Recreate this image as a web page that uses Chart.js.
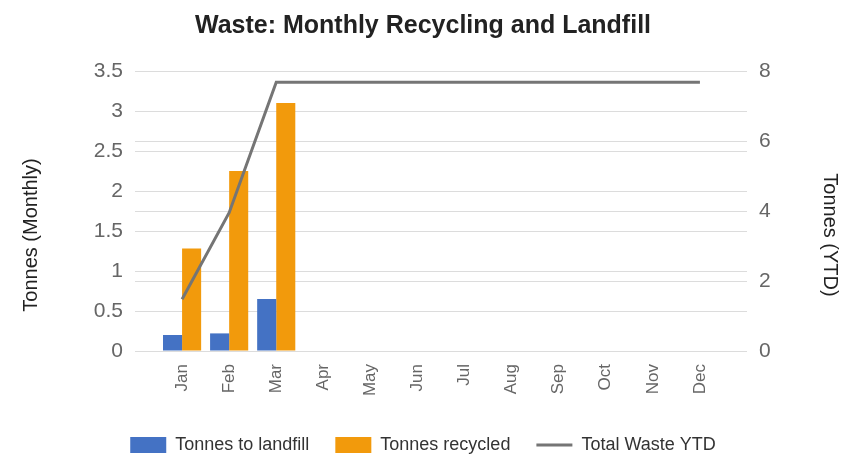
<!DOCTYPE html>
<html>
<head>
<meta charset="utf-8">
<script src="https://cdn.jsdelivr.net/npm/chart.js@4"></script>
<style>
  html, body { margin: 0; padding: 0; background: #fff; }
</style>
</head>
<body>
<canvas id="wasteChart" width="846" height="454"></canvas>
<script>
    const months = ['Jan', 'Feb', 'Mar', 'Apr', 'May', 'Jun', 'Jul', 'Aug', 'Sep', 'Oct', 'Nov', 'Dec'];
    const landfill = [0.2, 0.22, 0.65, null, null, null, null, null, null, null, null, null];
    const recycled = [1.28, 2.25, 3.1, null, null, null, null, null, null, null, null, null];
    const totalYtd = [1.48, 3.95, 7.68, 7.68, 7.68, 7.68, 7.68, 7.68, 7.68, 7.68, 7.68, 7.68];
    const monthlyTicks = [0, 0.5, 1, 1.5, 2, 2.5, 3, 3.5];
    const ytdTicks = [0, 2, 4, 6, 8];

    // one empty slot each side, like the sheet's chart leaves room before Jan / after Dec
    const labels = ['', ...months, ''];
    const pad = arr => [null, ...arr, null];

    const FONT = "'Liberation Sans', Arial, sans-serif";
    Chart.defaults.font.family = FONT;

    // axis titles sit a bit below the middle of the plot in the sheet's chart,
    // so they are drawn here instead of with scale.title
    const axisTitles = {
        id: 'axisTitles',
        afterDraw(chart) {
            const {ctx, chartArea, scales} = chart;
            const midY = (chartArea.top + chartArea.bottom) / 2 + 24;
            ctx.save();
            ctx.font = '20px ' + FONT;
            ctx.fillStyle = '#222';
            ctx.textAlign = 'center';
            ctx.textBaseline = 'middle';
            ctx.translate(scales.y.left + 31, midY);
            ctx.rotate(-Math.PI / 2);
            ctx.fillText('Tonnes (Monthly)', 0, 0);
            ctx.restore();
            ctx.save();
            ctx.font = '20px ' + FONT;
            ctx.fillStyle = '#222';
            ctx.textAlign = 'center';
            ctx.textBaseline = 'middle';
            ctx.translate(scales.y1.right - 16, midY);
            ctx.rotate(Math.PI / 2);
            ctx.fillText('Tonnes (YTD)', 0, 0);
            ctx.restore();
        }
    };

    const ctx = document.getElementById('wasteChart').getContext('2d');
    new Chart(ctx, {
        type: 'bar',
        data: {
            labels: labels,
            datasets: [{
                label: 'Tonnes to landfill',
                data: pad(landfill),
                backgroundColor: '#4472c4',
                borderWidth: 0,
                pointStyle: 'rect',
                yAxisID: 'y',
                order: 1,
                categoryPercentage: 0.81,
                barPercentage: 1
            }, {
                label: 'Tonnes recycled',
                data: pad(recycled),
                backgroundColor: '#f29a0c',
                borderWidth: 0,
                pointStyle: 'rect',
                yAxisID: 'y',
                order: 1,
                categoryPercentage: 0.81,
                barPercentage: 1
            }, {
                type: 'line',
                label: 'Total Waste YTD',
                data: pad(totalYtd),
                borderColor: '#757575',
                backgroundColor: '#757575',
                borderWidth: 3,
                pointRadius: 0,
                pointBorderWidth: 3,
                pointStyle: 'line',
                tension: 0,
                yAxisID: 'y1',
                order: 0
            }]
        },
        options: {
            responsive: false,
            animation: false,
            devicePixelRatio: 1,
            layout: { padding: { left: 0, right: 0, top: 0, bottom: -10 } },
            plugins: {
                title: {
                    display: true,
                    text: 'Waste: Monthly Recycling and Landfill',
                    color: '#222',
                    font: { size: 25, weight: 'bold' },
                    padding: { top: 11, bottom: 30 }
                },
                legend: {
                    position: 'bottom',
                    labels: {
                        usePointStyle: true,
                        pointStyleWidth: 36,
                        boxHeight: 16,
                        padding: 26,
                        color: '#333',
                        font: { size: 18 },
                        sort: (a, b) => a.datasetIndex - b.datasetIndex
                    }
                },
                tooltip: { enabled: false }
            },
            scales: {
                x: {
                    offset: false,
                    grid: { display: false },
                    border: { display: false },
                    ticks: {
                        autoSkip: false,
                        minRotation: 90,
                        maxRotation: 90,
                        padding: 5,
                        color: '#666',
                        font: { size: 17 }
                    },
                    afterFit: s => { s.height = 59; }
                },
                y: {
                    position: 'left',
                    min: monthlyTicks[0],
                    max: monthlyTicks[monthlyTicks.length - 1],
                    ticks: {
                        stepSize: monthlyTicks[1] - monthlyTicks[0],
                        padding: 12,
                        color: '#666',
                        font: { size: 21 },
                        callback: v => String(v)
                    },
                    grid: { color: '#dcdcdc', drawTicks: false },
                    border: { display: false },
                    afterFit: s => { s.width = 135; }
                },
                y1: {
                    position: 'right',
                    min: ytdTicks[0],
                    max: ytdTicks[ytdTicks.length - 1],
                    ticks: {
                        stepSize: ytdTicks[1] - ytdTicks[0],
                        padding: 12,
                        color: '#666',
                        font: { size: 21 }
                    },
                    grid: { color: '#dcdcdc', drawTicks: false },
                    border: { display: false },
                    afterFit: s => { s.width = 99; }
                }
            }
        },
        plugins: [axisTitles]
    });
</script>
</body>
</html>
